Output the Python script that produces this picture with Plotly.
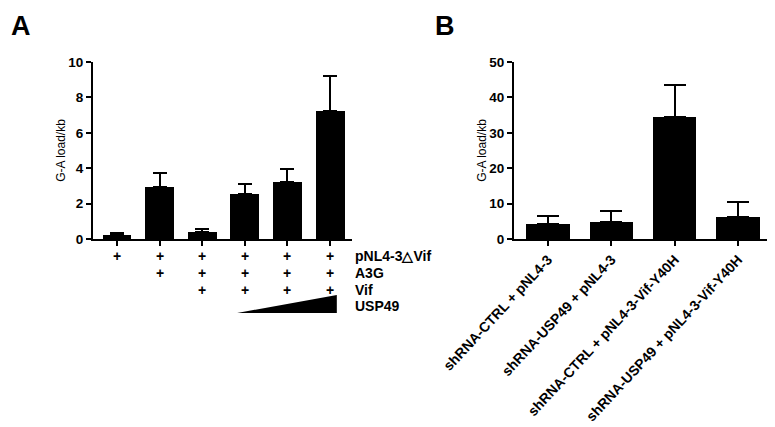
import plotly.graph_objects as go

# Panel A data
a_cats = ["1", "2", "3", "4", "5", "6"]
a_vals = [0.22, 2.92, 0.41, 2.52, 3.24, 7.23]
a_errs = [0.12, 0.79, 0.17, 0.57, 0.73, 2.0]
row_labels = ["pNL4-3\u25b3Vif", "A3G", "Vif", "USP49"]
row_pnl = ["+", "+", "+", "+", "+", "+"]
row_a3g = ["", "+", "+", "+", "+", "+"]
row_vif = ["", "", "+", "+", "+", "+"]

# Panel B data
b_cats = ["shRNA-CTRL + pNL4-3", "shRNA-USP49 + pNL4-3",
          "shRNA-CTRL + pNL4-3-Vif-Y40H", "shRNA-USP49 + pNL4-3-Vif-Y40H"]
b_vals = [4.2, 4.7, 34.4, 6.1]
b_errs = [2.3, 3.1, 9.1, 4.3]

OFF = 8  # default page body margin
W, H = 775 - OFF, 427 - OFF
def px_x(p): return (p - OFF) / W
def px_y(p): return 1 - (p - OFF) / H

FONT = "Liberation Sans, Arial, sans-serif"

fig = go.Figure()
fig.add_trace(go.Bar(
    x=list(range(len(a_cats))), y=a_vals, width=0.68,
    marker=dict(color="black", line=dict(width=0)),
    error_y=dict(type="data", array=a_errs, arrayminus=[0]*len(a_errs), symmetric=False,
                 color="black", thickness=2, width=7),
    xaxis="x", yaxis="y", showlegend=False))
fig.add_trace(go.Bar(
    x=list(range(len(b_cats))), y=b_vals, width=0.68,
    marker=dict(color="black", line=dict(width=0)),
    error_y=dict(type="data", array=b_errs, arrayminus=[0]*len(b_errs), symmetric=False,
                 color="black", thickness=2, width=11),
    xaxis="x2", yaxis="y2", showlegend=False))

ax_common = dict(showline=True, linecolor="black", linewidth=2, ticks="outside",
                 ticklen=5, tickwidth=2, tickcolor="black", showgrid=False, zeroline=False,
                 mirror=False, automargin=False)
tickfont = dict(family=FONT, size=13.5, color="black", weight="bold")
titlefont = dict(family=FONT, size=12, color="black")

fig.update_layout(
    width=W, height=H, margin=dict(l=0, r=0, t=0, b=0, autoexpand=False),
    paper_bgcolor="white", plot_bgcolor="white",
    bargap=0,
    xaxis=dict(domain=[px_x(93), px_x(352)], range=[-0.563, 5.516],
               tickvals=list(range(len(a_cats))), ticktext=[""]*len(a_cats),
               anchor="y", **ax_common),
    yaxis=dict(domain=[px_y(239), px_y(62)], range=[0, 10], tickvals=[0, 2, 4, 6, 8, 10],
               tickfont=tickfont, anchor="x",
               title=dict(text="G-A load/kb", font=titlefont, standoff=0),
               **ax_common),
    xaxis2=dict(domain=[px_x(514), px_x(772)], range=[-0.537, 3.537],
                tickvals=list(range(len(b_cats))), ticktext=b_cats, tickangle=-47,
                tickfont=dict(family=FONT, size=14, color="black", weight="bold"),
                anchor="y2", **ax_common),
    yaxis2=dict(domain=[px_y(239), px_y(62)], range=[0, 50], tickvals=[0, 10, 20, 30, 40, 50],
                tickfont=tickfont, anchor="x2",
                title=dict(text="G-A load/kb", font=titlefont, standoff=0),
                **ax_common),
)

ann = []
# panel letters (kept just inside the top edge of the figure)
ann.append(dict(text="A", x=px_x(9), y=px_y(9), xref="paper", yref="paper", xanchor="left",
                yanchor="top", showarrow=False, font=dict(family=FONT, size=27, color="black", weight="bold")))
ann.append(dict(text="B", x=px_x(433), y=px_y(9), xref="paper", yref="paper", xanchor="left",
                yanchor="top", showarrow=False, font=dict(family=FONT, size=27, color="black", weight="bold")))

rowfont = dict(family=FONT, size=14, color="black", weight="bold")
row_ys = [256, 273, 290, 306]
for row, ypx in zip([row_pnl, row_a3g, row_vif], row_ys[:3]):
    for i, s in enumerate(row):
        if s:
            ann.append(dict(text=s, x=i, y=px_y(ypx), xref="x", yref="paper", showarrow=False,
                            xanchor="center", yanchor="middle", font=rowfont))
for lab, ypx in zip(row_labels, row_ys):
    ann.append(dict(text=lab, x=px_x(353), y=px_y(ypx), xref="paper", yref="paper", showarrow=False,
                    xanchor="left", yanchor="middle", font=rowfont))
fig.update_layout(annotations=ann)

# increasing USP49 wedge
fig.add_shape(type="path", xref="x", yref="paper",
              path=f"M 2.82 {px_y(313)} L 5.16 {px_y(295)} L 5.16 {px_y(313)} Z",
              fillcolor="black", line=dict(width=0))

fig.write_html("out.html")
